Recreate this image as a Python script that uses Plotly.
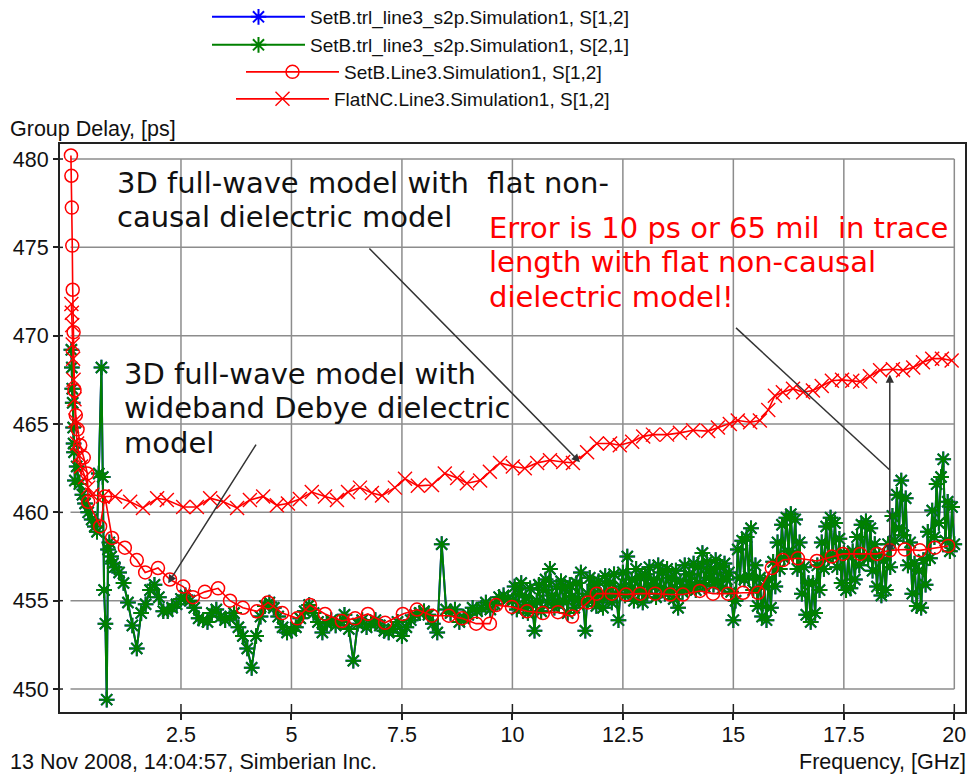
import plotly.graph_objects as go

# ---------------- data ----------------
x_tickvals = [2.5, 5, 7.5, 10, 12.5, 15, 17.5, 20]
x_ticktext = ["2.5", "5", "7.5", "10", "12.5", "15", "17.5", "20"]
y_tickvals = [450, 455, 460, 465, 470, 475, 480]
y_ticktext = ["450", "455", "460", "465", "470", "475", "480"]
grid_x = [2.5, 5, 7.5, 10, 12.5, 15, 17.5, 20]
grid_y = [450, 455, 460, 465, 470, 475, 480]

series_names = [
    "SetB.trl_line3_s2p.Simulation1, S[1,2]",
    "SetB.trl_line3_s2p.Simulation1, S[2,1]",
    "SetB.Line3.Simulation1, S[1,2]",
    "FlatNC.Line3.Simulation1, S[1,2]",
]

# measured (TRL de-embedded) group delay, GHz / ps
trl_freq = [
    0.02, 0.03, 0.04, 0.05, 0.06, 0.07, 0.08, 0.10, 0.14, 0.20,
    0.27, 0.33, 0.40, 0.48, 0.55, 0.60, 0.64, 0.70, 0.73, 0.76,
    0.79, 0.82, 0.85, 0.88, 0.92, 0.96,
    1.0, 1.1, 1.2, 1.3, 1.4, 1.5, 1.6, 1.7, 1.8, 1.9,
    2.0, 2.1, 2.2, 2.3, 2.4, 2.5, 2.6, 2.7, 2.8, 2.9,
    3.0, 3.1, 3.2, 3.3, 3.4, 3.5, 3.6, 3.7, 3.8, 3.9,
    4.0, 4.1, 4.2, 4.3, 4.4, 4.5, 4.6, 4.7, 4.8, 4.9,
    5.0, 5.1, 5.2, 5.3, 5.4, 5.5, 5.6, 5.7, 5.8, 5.9,
    6.0, 6.1, 6.2, 6.3, 6.4, 6.5, 6.6, 6.7, 6.8, 6.9,
    7.0, 7.1, 7.2, 7.3, 7.4, 7.5, 7.6, 7.7, 7.8, 7.9,
    8.0, 8.1, 8.2, 8.3, 8.4, 8.5, 8.6, 8.7, 8.8, 8.9,
    9.0, 9.1, 9.2, 9.3, 9.4, 9.5, 9.6, 9.7, 9.8, 9.9,
    10.0, 10.05, 10.1, 10.15, 10.2, 10.25, 10.3, 10.35, 10.4, 10.45,
    10.5, 10.55, 10.6, 10.65, 10.7, 10.75, 10.8, 10.85, 10.9, 10.95,
    11.0, 11.05, 11.1, 11.15, 11.2, 11.25, 11.3, 11.35, 11.4, 11.45,
    11.5, 11.55, 11.6, 11.65, 11.7, 11.75, 11.8, 11.85, 11.9, 11.95,
    12.0, 12.05, 12.1, 12.15, 12.2, 12.25, 12.3, 12.35, 12.4, 12.45,
    12.5, 12.55, 12.6, 12.65, 12.7, 12.75, 12.8, 12.85, 12.9, 12.95,
    13.0, 13.05, 13.1, 13.15, 13.2, 13.25, 13.3, 13.35, 13.4, 13.45,
    13.5, 13.55, 13.6, 13.65, 13.7, 13.75, 13.8, 13.85, 13.9, 13.95,
    14.0, 14.05, 14.1, 14.15, 14.2, 14.25, 14.3, 14.35, 14.4, 14.45,
    14.5, 14.55, 14.6, 14.65, 14.7, 14.75, 14.8, 14.85, 14.9, 14.95,
    15.0, 15.05, 15.1, 15.15, 15.2, 15.25, 15.3, 15.35, 15.4, 15.45,
    15.5, 15.55, 15.6, 15.65, 15.7, 15.75, 15.8, 15.85, 15.9, 15.95,
    16.0, 16.05, 16.1, 16.15, 16.2, 16.25, 16.3, 16.35, 16.4, 16.45,
    16.5, 16.55, 16.6, 16.65, 16.7, 16.75, 16.8, 16.85, 16.9, 16.95,
    17.0, 17.05, 17.1, 17.15, 17.2, 17.25, 17.3, 17.35, 17.4, 17.45,
    17.5, 17.55, 17.6, 17.65, 17.7, 17.75, 17.8, 17.85, 17.9, 17.95,
    18.0, 18.05, 18.1, 18.15, 18.2, 18.25, 18.3, 18.35, 18.4, 18.45,
    18.5, 18.55, 18.6, 18.65, 18.7, 18.75, 18.8, 18.85, 18.9, 18.95,
    19.0, 19.05, 19.1, 19.15, 19.2, 19.25, 19.3, 19.35, 19.4, 19.45,
    19.5, 19.55, 19.6, 19.65, 19.7, 19.75, 19.8, 19.85, 19.9, 19.95,
    20.0,
]
trl_s21_delay = [
    469.2, 468.2, 467.0, 466.2, 464.8, 463.9, 463.4, 461.8, 462.6, 461.6,
    461.0, 460.5, 460.0, 459.6, 459.2, 458.9, 462.2, 468.2, 462.0, 455.6,
    453.7, 449.4, 457.9, 458.3, 457.5, 457.1,
    456.9, 456.6, 456.0, 454.9, 453.6, 452.3, 454.3, 454.8, 455.6, 455.9,
    455.2, 454.4, 454.4, 454.6, 454.8, 455.1, 455.3, 455.0, 454.6, 454.0,
    453.9, 453.8, 454.3, 454.5, 454.1, 453.9, 454.0, 454.3, 453.5, 453.0,
    452.3, 451.2, 453.0, 454.1, 454.7, 454.9, 454.6, 454.1, 453.5, 453.2,
    453.3, 453.5, 454.0, 454.4, 454.75, 454.3, 453.8, 453.2, 453.7, 453.9,
    453.6, 453.8, 454.2, 453.4, 451.6, 453.7, 453.9, 453.5, 453.7, 453.9,
    453.6, 453.3, 453.2, 453.4, 453.8, 453.0, 453.5, 453.9, 454.2, 454.3,
    454.4, 454.2, 453.7, 453.2, 458.2, 454.5, 454.3, 454.5, 453.8, 454.0,
    454.2, 454.6, 454.4, 454.6, 454.9, 454.5, 454.8, 455.2, 455.3, 455.1,
    455.0, 455.8, 454.5, 455.4, 456.0, 454.6, 455.2, 454.3, 455.7, 454.8,
    453.3, 455.0, 455.9, 454.4, 455.6, 456.2, 454.9, 456.8, 455.3, 454.6,
    455.8, 454.8, 456.1, 455.0, 455.7, 454.3, 455.9, 455.2, 454.6, 456.0,
    455.1, 456.6, 454.9, 453.3, 455.4, 456.3, 455.0, 455.9, 454.7, 456.1,
    455.3, 454.6, 456.4, 455.2, 456.0, 454.9, 456.5, 455.4, 453.9, 455.8,
    456.6, 455.3, 457.5, 455.6, 456.2, 455.0, 456.8, 455.5, 456.3, 454.9,
    456.5, 455.4, 456.9, 455.8, 456.2, 455.2, 457.0, 455.7, 456.6, 455.4,
    456.8, 455.6, 456.3, 455.1, 456.7, 454.6, 456.1, 455.5, 457.0, 455.7,
    456.5, 455.9, 457.1, 455.6, 456.9, 456.0, 457.7, 455.8, 457.2, 456.3,
    456.8, 455.9, 457.3, 456.1, 456.9, 455.7, 457.1, 456.2, 456.6, 455.5,
    453.9, 455.0, 457.9, 456.3, 458.4, 456.2, 458.6, 456.4, 459.1, 455.6,
    457.0, 454.7, 456.3, 454.1, 455.8, 453.9, 456.2, 454.6, 457.2, 455.8,
    458.3, 456.8, 459.3, 457.4, 459.7, 457.8, 459.9, 457.6, 459.6, 456.8,
    458.3, 455.4, 456.9, 454.2, 456.0, 453.8, 456.0, 454.3, 457.0, 455.6,
    458.3, 456.8, 459.2, 457.4, 459.7, 457.6, 459.4, 456.9, 458.5, 456.0,
    457.7, 455.6, 457.5, 455.7, 457.8, 456.2, 458.6, 457.0, 459.3, 457.5,
    459.5, 457.4, 459.1, 456.7, 458.2, 455.8, 457.6, 455.3, 457.3, 455.6,
    458.2, 456.9, 459.8, 458.4, 461.0, 459.1, 461.8, 458.7, 460.8, 457.0,
    458.3, 455.4, 457.1, 454.7, 456.7, 454.6, 457.3, 455.9, 458.9, 457.4,
    460.1, 458.6, 461.6, 459.4, 462.0, 463.0, 458.4, 460.6, 457.8, 460.3,
    458.2,
]
# S[1,2] of the reciprocal measured line coincides with S[2,1]
trl_s12_delay = trl_s21_delay

# 3D full-wave, wideband Debye model
setb_freq = [
    0.01, 0.02, 0.03, 0.04, 0.05, 0.07, 0.09, 0.12, 0.16, 0.22,
    0.30, 0.38, 0.40, 0.67, 0.78, 0.94, 1.23, 1.50, 1.69, 1.98,
    2.25, 2.55, 2.77, 3.04, 3.34, 3.61, 3.90, 4.22, 4.47, 4.79,
    5.13, 5.42, 5.76, 6.14, 6.44, 6.73, 7.12, 7.52, 7.84, 8.18,
    8.56, 8.86, 9.18, 9.49, 9.63, 9.99, 10.33, 10.69, 11.03, 11.35,
    11.71, 11.91, 12.25, 12.57, 12.89, 13.23, 13.57, 13.86, 14.24, 14.54,
    14.88, 15.22, 15.56, 15.87, 16.12, 16.46, 16.89, 17.23, 17.48, 17.87,
    18.25, 18.54, 18.88, 19.22, 19.56, 19.86,
]
setb_delay = [
    480.2, 479.05, 477.25, 475.1, 472.6, 470.2, 466.9, 465.5, 464.7, 463.8,
    463.1, 462.2, 460.6, 459.2, 460.9, 458.55, 458.0, 457.3, 456.6, 456.85,
    456.2, 455.8, 455.2, 455.5, 455.7, 455.0, 454.6, 454.4, 454.9, 454.3,
    454.0, 454.75, 454.25, 453.85, 454.0, 454.25, 453.75, 454.25, 454.5, 454.15,
    454.15, 454.0, 453.7, 453.7, 454.75, 454.65, 454.4, 454.3, 454.35, 454.1,
    454.9, 455.4, 455.4, 455.35, 455.4, 455.4, 455.35, 455.35, 455.55, 455.4,
    455.4, 455.45, 455.45, 456.85, 457.3, 457.4, 457.25, 457.5, 457.65, 457.65,
    457.65, 457.85, 457.9, 457.85, 458.0, 458.1,
]

# 3D full-wave, flat non-causal model
flat_freq = [
    0.02, 0.03, 0.04, 0.05, 0.06, 0.07, 0.09, 0.11, 0.15, 0.20,
    0.24, 0.33, 0.40, 0.49, 0.73, 1.01, 1.35, 1.64, 1.96, 2.18,
    2.55, 2.86, 3.16, 3.46, 3.77, 4.06, 4.36, 4.67, 4.92, 5.19,
    5.46, 5.76, 6.03, 6.28, 6.55, 6.82, 7.05, 7.34, 7.57, 7.86,
    8.18, 8.47, 8.75, 8.97, 9.27, 9.49, 9.72, 10.01, 10.28, 10.56,
    10.85, 11.15, 11.37, 11.69, 11.91, 12.21, 12.43, 12.71, 12.96, 13.18,
    13.50, 13.79, 14.09, 14.43, 14.65, 14.92, 15.10, 15.38, 15.60, 15.79,
    15.94, 16.12, 16.35, 16.58, 16.80, 17.00, 17.23, 17.46, 17.69, 17.87,
    18.09, 18.32, 18.61, 18.84, 19.07, 19.29, 19.50, 19.72, 19.94,
]
flat_delay = [
    471.8, 471.3, 470.6, 469.5, 468.7, 467.5, 466.4, 465.2, 463.9, 463.2,
    462.6, 462.0, 461.4, 461.0, 460.9, 460.9, 460.6, 460.25, 460.8, 460.7,
    460.3, 460.3, 460.8, 460.6, 460.25, 460.7, 460.9, 460.4, 460.5, 460.75,
    461.15, 460.9, 460.7, 461.15, 461.4, 461.1, 460.95, 461.4, 461.9, 461.5,
    461.55, 462.2, 461.95, 461.65, 461.8, 462.3, 462.8, 462.6, 462.5, 462.8,
    462.95, 462.85, 462.8, 463.4, 463.9, 463.9, 463.8, 464.0, 464.3, 464.4,
    464.4, 464.5, 464.65, 464.6, 464.8, 465.0, 465.2, 465.1, 465.2, 465.8,
    466.6, 466.8, 467.0, 466.8, 466.9, 467.15, 467.45, 467.5, 467.45, 467.4,
    467.7, 468.05, 468.1, 468.05, 468.2, 468.5, 468.7, 468.7, 468.6,
]

# ---------------- geometry ----------------
W, H = 976, 776
ML, MR, MT, MB = 60, 11, 144, 64
PW, PH = W - ML - MR, H - MT - MB
X_RANGE = [-0.2376, 20.242]
Y_RANGE = [448.70, 480.85]


def px(xp):
    return (xp - ML) / PW


def py(yp):
    return (H - MB - yp) / PH


GREEN = "#008000"
RED = "#ff0000"
BLUE = "#0000ff"
LW = 1.6

fig = go.Figure()
fig.add_trace(go.Scatter(
    x=trl_freq, y=trl_s12_delay, mode="lines+markers", name=series_names[0],
    line=dict(color=BLUE, width=2),
    marker=dict(symbol="asterisk-open", size=13, color=BLUE, line=dict(color=BLUE, width=2)),
    legend="legend"))
fig.add_trace(go.Scatter(
    x=trl_freq, y=trl_s21_delay, mode="lines+markers", name=series_names[1],
    line=dict(color=GREEN, width=2),
    marker=dict(symbol="asterisk-open", size=13, color=GREEN, line=dict(color=GREEN, width=2)),
    legend="legend2"))
fig.add_trace(go.Scatter(
    x=setb_freq, y=setb_delay, mode="lines+markers", name=series_names[2],
    line=dict(color=RED, width=LW),
    marker=dict(symbol="circle-open", size=13, color=RED, line=dict(color=RED, width=1.5)),
    legend="legend3"))
fig.add_trace(go.Scatter(
    x=flat_freq, y=flat_delay, mode="lines+markers", name=series_names[3],
    line=dict(color=RED, width=LW),
    marker=dict(symbol="x-thin-open", size=14, color=RED, line=dict(color=RED, width=1.4)),
    legend="legend4"))

shapes = []
GRID = dict(color="#8c8c8c", width=1.5)
for gx in grid_x:
    shapes.append(dict(type="line", xref="x", yref="y", x0=gx, x1=gx,
                       y0=grid_y[0], y1=grid_y[-1], line=GRID, layer="below"))
for gy in grid_y:
    shapes.append(dict(type="line", xref="x", yref="y", x0=0, x1=grid_x[-1],
                       y0=gy, y1=gy, line=GRID, layer="below"))
# inner halves of the crossing tick marks
for tx in x_tickvals:
    shapes.append(dict(type="line", xref="x", yref="y", ysizemode="pixel",
                       yanchor=Y_RANGE[0], x0=tx, x1=tx, y0=0, y1=8,
                       line=dict(color="#222", width=1.5)))
for ty in y_tickvals:
    shapes.append(dict(type="line", xref="x", yref="y", xsizemode="pixel",
                       xanchor=X_RANGE[0], y0=ty, y1=ty, x0=0, x1=3,
                       line=dict(color="#222", width=1.5)))
# leader line of the red comment
shapes.append(dict(type="line", xref="x", yref="y", x0=15.06, y0=470.44,
                   x1=18.54, y1=462.40, line=dict(color="#333", width=1.5)))

ARROW = dict(showarrow=True, arrowhead=2, arrowsize=1.1, arrowwidth=1.5,
             arrowcolor="#333", text="", xref="x", yref="y", axref="x", ayref="y")
annotations = [
    dict(x=11.53, y=462.84, ax=6.73, ay=475.02, **ARROW),
    dict(x=2.21, y=455.99, ax=4.22, ay=463.92, **ARROW),
    dict(x=18.54, y=457.70, ax=18.54, ay=467.89, arrowside="end+start", **ARROW),
]

NOTE_FONT = "DejaVu Sans"
NOTE_SIZE = 29
notes = [
    # (text, left px, centre px, colour)
    ("3D full-wave model with  flat non-", 116, 183, "#111"),
    ("causal dielectric model", 116, 217, "#111"),
    ("Error is 10 ps or 65 mil  in trace", 488, 228, RED),
    ("length with flat non-causal", 488, 262, RED),
    ("dielectric model!", 488, 297, RED),
    ("3D full-wave model with", 123, 374, "#111"),
    ("wideband Debye dielectric", 123, 408, "#111"),
    ("model", 123, 443, "#111"),
]
for txt, lx, cy, col in notes:
    annotations.append(dict(text=txt, x=px(lx), y=py(cy), xref="paper", yref="paper",
                            xanchor="left", yanchor="middle", align="left", showarrow=False,
                            borderpad=0,
                            font=dict(family=NOTE_FONT, size=NOTE_SIZE, color=col)))

LAB = 21.5
annotations += [
    dict(text="Group Delay, [ps]", x=px(8), y=py(129), xref="paper", yref="paper",
         xanchor="left", yanchor="middle", showarrow=False,
         font=dict(size=LAB, color="#111")),
    dict(text="13 Nov 2008, 14:04:57, Simberian Inc.", x=px(8), y=py(762), xref="paper",
         yref="paper", xanchor="left", yanchor="middle", showarrow=False,
         font=dict(size=LAB, color="#111")),
    dict(text="Frequency, [GHz]", x=px(968), y=py(762), xref="paper", yref="paper",
         xanchor="right", yanchor="middle", showarrow=False,
         font=dict(size=LAB, color="#111")),
]

LEG = dict(xanchor="left", yanchor="middle", bgcolor="rgba(0,0,0,0)", borderwidth=0,
           itemwidth=93, font=dict(size=19, color="#111"), itemclick=False)
fig.update_layout(
    width=W, height=H,
    margin=dict(l=ML, r=MR, t=MT, b=MB, autoexpand=False),
    paper_bgcolor="white", plot_bgcolor="white",
    font=dict(family="Liberation Sans", color="#111"),
    showlegend=True,
    legend=dict(x=px(207), y=py(17), **LEG),
    legend2=dict(x=px(207), y=py(45), **LEG),
    legend3=dict(x=px(241), y=py(72), **LEG),
    legend4=dict(x=px(231), y=py(99), **LEG),
    xaxis=dict(range=X_RANGE, tickvals=x_tickvals, ticktext=x_ticktext, showgrid=False,
               zeroline=False, ticks="outside", ticklen=6, tickwidth=1.5, tickcolor="#222",
               showline=True, linecolor="#222", linewidth=2, mirror=True,
               ticklabelstandoff=-4,
               tickfont=dict(size=LAB, color="#111")),
    yaxis=dict(range=Y_RANGE, tickvals=y_tickvals, ticktext=y_ticktext, showgrid=False,
               zeroline=False, ticks="outside", ticklen=5, tickwidth=1.5, tickcolor="#222",
               showline=True, linecolor="#222", linewidth=2, mirror=True,
               tickfont=dict(size=LAB, color="#111")),
    shapes=shapes, annotations=annotations,
)

fig.write_html("out.html", config={"displayModeBar": False})
